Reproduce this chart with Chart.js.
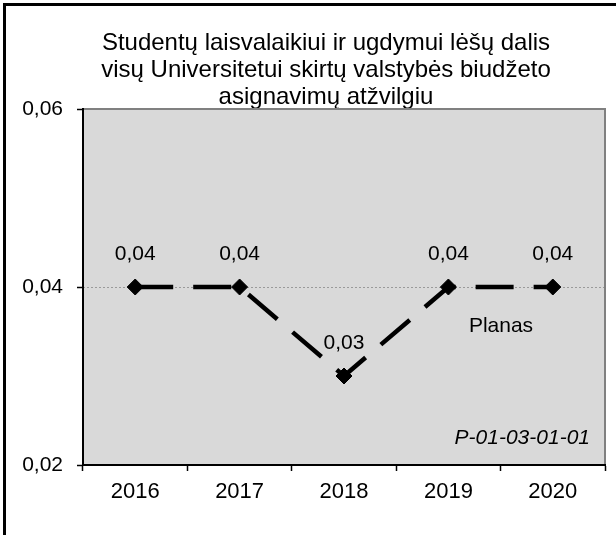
<!DOCTYPE html>
<html lang="lt">

<head>
    <meta charset="UTF-8">
    <title>Studentų laisvalaikiui ir ugdymui lėšų dalis</title>
    <script src="https://cdn.jsdelivr.net/npm/chart.js@4.4.0/dist/chart.umd.min.js"></script>
    <style>
        html, body { margin: 0; padding: 0; background: #fff; }
        #wrap { width: 616px; height: 535px; position: relative; }
    </style>
</head>

<body>
    <div id="wrap">
        <canvas id="chart" width="616" height="535"></canvas>
    </div>

<script>
    // data
    const years = ['2016', '2017', '2018', '2019', '2020'];
    const planas = [0.04, 0.04, 0.03, 0.04, 0.04];
    const yTicks = [0.02, 0.04, 0.06];
    const titleLines = ['Studentų laisvalaikiui ir ugdymui lėšų dalis',
        'visų Universitetui skirtų valstybės biudžeto',
        'asignavimų atžvilgiu'];
    const seriesName = 'Planas';
    const code = 'P-01-03-01-01';

    const FONT = "'Liberation Sans', Arial, sans-serif";

    function fmt(v) {
        return v.toFixed(2).replace('.', ',');
    }

    // gray plot area, borders, the 0,04 line and the texts
    const decor = {
        id: 'decor',
        beforeDraw(chart) {
            const ctx = chart.ctx, a = chart.chartArea;
            ctx.save();
            ctx.fillStyle = '#d9d9d9';
            ctx.fillRect(a.left, a.top, a.right - a.left, a.bottom - a.top);

            // page frame (only left and top show)
            ctx.strokeStyle = '#000';
            ctx.lineWidth = 3;
            ctx.beginPath();
            ctx.moveTo(4.5, 535);
            ctx.lineTo(4.5, 4.5);
            ctx.lineTo(616, 4.5);
            ctx.stroke();

            // title, Excel puts it a bit left of the plot centre
            ctx.fillStyle = '#000';
            ctx.font = '24px ' + FONT;
            ctx.textAlign = 'center';
            ctx.textBaseline = 'alphabetic';
            const cx = (a.left + a.right) / 2 - 18;
            titleLines.forEach((t, i) => ctx.fillText(t, cx, 50 + i * 27));

            // dotted gridline
            const y = chart.scales.y;
            ctx.strokeStyle = '#9a9a9a';
            ctx.lineWidth = 1;
            ctx.setLineDash([2, 2]);
            yTicks.slice(1, -1).forEach(v => {
                const py = Math.round(y.getPixelForValue(v)) + 0.5;
                ctx.beginPath();
                ctx.moveTo(a.left, py);
                ctx.lineTo(a.right, py);
                ctx.stroke();
            });
            ctx.setLineDash([]);

            // top and right frame of plot
            ctx.strokeStyle = '#808080';
            ctx.lineWidth = 2;
            ctx.beginPath();
            ctx.moveTo(a.left, a.top);
            ctx.lineTo(a.right, a.top);
            ctx.lineTo(a.right, a.bottom);
            ctx.stroke();
            ctx.restore();
        },
        afterDatasetsDraw(chart) {
            const ctx = chart.ctx, a = chart.chartArea;
            ctx.save();
            ctx.fillStyle = '#000';
            ctx.font = '21px ' + FONT;
            ctx.textAlign = 'center';
            ctx.textBaseline = 'middle';
            chart.getDatasetMeta(0).data.forEach((pt, i) => {
                ctx.fillText(fmt(planas[i]), pt.x, pt.y - 33);
            });
            ctx.fillText(seriesName, a.right - 104, a.top + 217);
            ctx.font = 'italic 21px ' + FONT;
            ctx.textAlign = 'right';
            ctx.fillText(code, a.right - 15, a.bottom - 27);
            ctx.restore();
        }
    };

    new Chart(document.getElementById('chart'), {
        type: 'line',
        data: {
            labels: years,
            datasets: [{
                label: seriesName,
                data: planas,
                borderColor: '#000',
                borderWidth: 4.5,
                borderDash: [38, 20],
                borderCapStyle: 'butt',
                tension: 0,
                pointStyle: 'rectRot',
                pointRadius: 8,
                pointBackgroundColor: '#000',
                pointBorderColor: '#000',
                pointBorderWidth: 1
            }]
        },
        options: {
            responsive: false,
            animation: false,
            devicePixelRatio: 1,
            layout: {
                padding: { left: 10, right: 11, top: 109, bottom: 0 }
            },
            plugins: {
                legend: { display: false },
                tooltip: { enabled: false },
                title: { display: false }
            },
            scales: {
                x: {
                    offset: true,
                    afterFit(s) { s.height = 70; },
                    grid: {
                        offset: true,
                        drawOnChartArea: false,
                        drawTicks: true,
                        tickLength: 6,
                        tickColor: '#000',
                        tickWidth: 1.5
                    },
                    border: { color: '#000', width: 2 },
                    ticks: {
                        color: '#000',
                        padding: 8,
                        maxRotation: 0,
                        font: { family: FONT, size: 22 }
                    }
                },
                y: {
                    min: yTicks[0],
                    max: yTicks[yTicks.length - 1],
                    afterFit(s) { s.width = 73; },
                    afterBuildTicks(s) { s.ticks = yTicks.map(v => ({ value: v })); },
                    grid: {
                        drawOnChartArea: false,
                        drawTicks: true,
                        tickLength: 6,
                        tickColor: '#000',
                        tickWidth: 1.5
                    },
                    border: { color: '#000', width: 2 },
                    ticks: {
                        color: '#000',
                        padding: 14,
                        font: { family: FONT, size: 21 },
                        callback: v => fmt(v)
                    }
                }
            }
        },
        plugins: [decor]
    });
</script>

</body>

</html>
